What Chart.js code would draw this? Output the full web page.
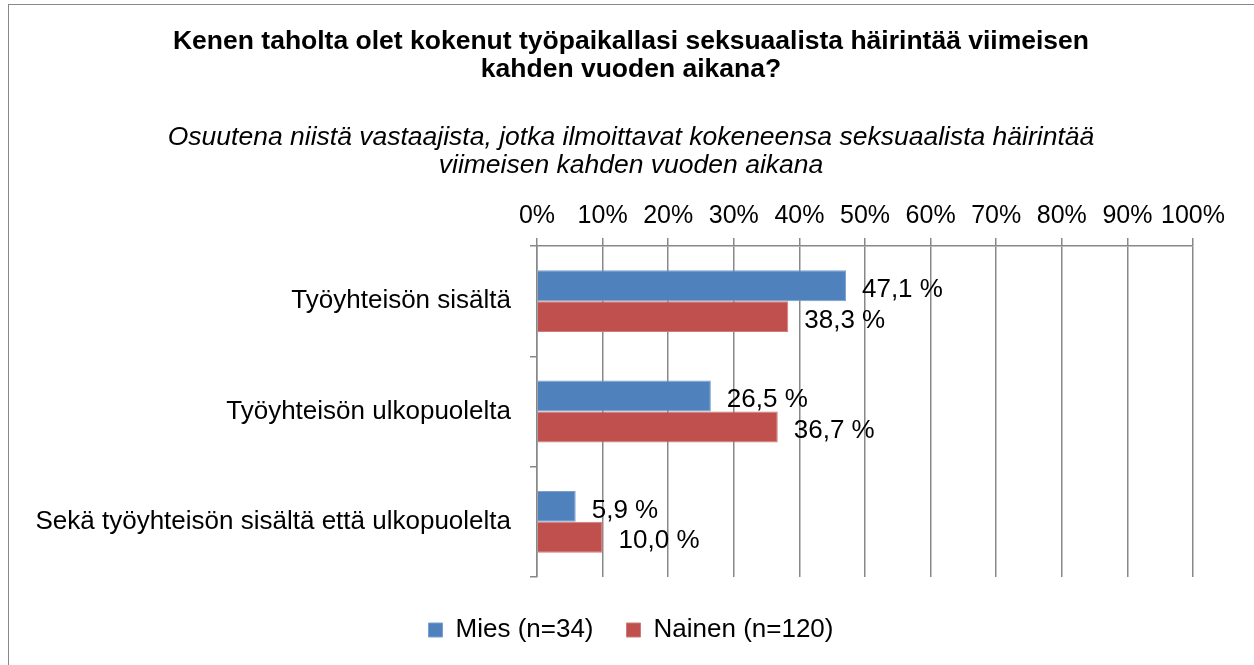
<!DOCTYPE html>
<html>
<head>
<meta charset="utf-8">
<script src="https://cdn.jsdelivr.net/npm/chart.js@4/dist/chart.umd.min.js"></script>
<style>
    html, body { margin: 0; padding: 0; background: #fff; }
    #frame {
        position: absolute; left: 8px; top: 4px; width: 1400px; height: 800px;
        border-top: 1px solid #888; border-left: 1px solid #888;
    }
    #chart { position: absolute; left: 0; top: 0; }
</style>
</head>
<body>
<div id="frame"></div>
<canvas id="chart" width="1254" height="665"></canvas>
<script>
const categories = ['Työyhteisön sisältä', 'Työyhteisön ulkopuolelta', 'Sekä työyhteisön sisältä että ulkopuolelta'];
const seriesNames = ['Mies (n=34)', 'Nainen (n=120)'];
const miesValues = [47.1, 26.5, 5.9];
const nainenValues = [38.3, 36.7, 10.0];
const xTickValues = [0, 10, 20, 30, 40, 50, 60, 70, 80, 90, 100];

const FONT = "'Liberation Sans', Arial, sans-serif";
const GRID = '#888888';

// Value labels to the right of each bar, e.g. "47,1 %"
const barLabels = {
    id: 'barLabels',
    afterDatasetsDraw(chart) {
        const ctx = chart.ctx;
        ctx.save();
        ctx.font = '26px ' + FONT;
        ctx.fillStyle = '#000';
        ctx.textAlign = 'left';
        ctx.textBaseline = 'middle';
        chart.data.datasets.forEach((ds, i) => {
            chart.getDatasetMeta(i).data.forEach((bar, j) => {
                const txt = ds.data[j].toFixed(1).replace('.', ',') + ' %';
                ctx.fillText(txt, bar.x + 16, bar.y + 4);
            });
        });
        ctx.restore();
    }
};

// empty axis, only reserves room next to the plot
const spacer = (axis, position, size) => ({
    type: 'linear',
    axis: axis,
    position: position,
    afterFit: scale => {
        if (axis === 'x') scale.height = size; else scale.width = size;
    },
    ticks: { display: false },
    grid: { display: false, drawTicks: false },
    border: { display: false }
});

new Chart(document.getElementById('chart'), {
    type: 'bar',
    data: {
        labels: categories,
        datasets: [
            {
                label: seriesNames[0],
                data: miesValues,
                xAxisID: 'x',
                yAxisID: 'y',
                backgroundColor: '#4F81BD',
                borderColor: '#7A9FD0',
                borderWidth: 1,
                categoryPercentage: 0.56,
                barPercentage: 1.0
            },
            {
                label: seriesNames[1],
                data: nainenValues,
                xAxisID: 'x',
                yAxisID: 'y',
                backgroundColor: '#C0504D',
                borderColor: '#CF7A78',
                borderWidth: 1,
                categoryPercentage: 0.56,
                barPercentage: 1.0
            }
        ]
    },
    options: {
        indexAxis: 'y',
        responsive: false,
        animation: false,
        devicePixelRatio: 1,
        layout: { padding: { left: 8, right: 0, top: 0, bottom: 12 } },
        plugins: {
            title: {
                display: true,
                text: ['Kenen taholta olet kokenut työpaikallasi seksuaalista häirintää viimeisen', 'kahden vuoden aikana?'],
                color: '#000',
                font: { family: FONT, size: 26.5, weight: 'bold', lineHeight: '28px' },
                padding: { top: 28, bottom: 0 }
            },
            subtitle: {
                display: true,
                text: ['Osuutena niistä vastaajista, jotka ilmoittavat kokeneensa seksuaalista häirintää', 'viimeisen kahden vuoden aikana'],
                color: '#000',
                font: { family: FONT, size: 26.5, style: 'italic', lineHeight: '28px' },
                padding: { top: 40, bottom: 0 }
            },
            legend: {
                position: 'bottom',
                labels: {
                    color: '#000',
                    font: { family: FONT, size: 26 },
                    boxWidth: 14,
                    boxHeight: 14,
                    padding: 33
                }
            },
            tooltip: { enabled: false }
        },
        scales: {
            y: {
                afterFit: scale => { scale.width = 529; },
                ticks: {
                    color: '#000',
                    font: { family: FONT, size: 26 },
                    padding: 19
                },
                grid: { offset: true, drawOnChartArea: false, color: GRID, lineWidth: 1.5, tickLength: 7 },
                border: { display: true, color: GRID, width: 1.5 }
            },
            x: {
                position: 'top',
                min: 0,
                max: 100,
                afterBuildTicks: scale => { scale.ticks = xTickValues.map(v => ({ value: v })); },
                afterFit: scale => { scale.height = 66; },
                ticks: {
                    color: '#000',
                    font: { family: FONT, size: 25 },
                    padding: 7,
                    maxRotation: 0,
                    minRotation: 0,
                    autoSkip: false,
                    callback: v => v + '%'
                },
                grid: { color: GRID, lineWidth: 1.5, tickLength: 8 },
                border: { display: true, color: GRID, width: 1.5 }
            },
            xSpacer: spacer('x', 'bottom', 7),
            ySpacer: spacer('y', 'right', 61)
        }
    },
    plugins: [barLabels]
});
</script>
</body>
</html>
